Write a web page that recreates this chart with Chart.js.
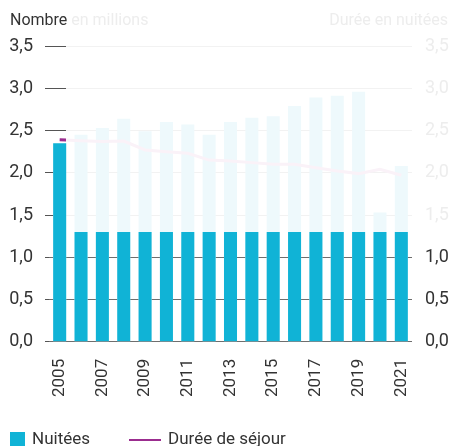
<!DOCTYPE html>
<html>
<head>
<meta charset="utf-8">
<script src="https://cdn.jsdelivr.net/npm/chart.js@4"></script>
<style>
  body { margin: 0; background: #fff; font-family: Roboto, 'Liberation Sans', sans-serif; }
  #wrap { position: relative; width: 452px; height: 446px; overflow: hidden; }
  #myChart { position: absolute; left: 0; top: 0; }
  .titre { position: absolute; top: 10px; font-size: 16px; color: #333; white-space: nowrap; }
  .pale { color: #ededed; }
  .legende { position: absolute; top: 428px; font-size: 17px; color: #333; white-space: nowrap; }
  .carre { position: absolute; width: 15px; height: 15px; background: #10b3d6; top: 4px; left: 0; }
  .trait { position: absolute; width: 32px; height: 2px; background: #9b2d8f; top: 11px; left: 0; }
</style>
</head>
<body>
<div id="wrap">
  <canvas id="myChart" width="452" height="446"></canvas>
  <div class="titre" style="left:10px">Nombre <span class="pale">en millions</span></div>
  <div class="titre pale" style="right:4px">Durée en nuitées</div>
  <div class="legende" style="left:10px"><span class="carre"></span><span style="margin-left:22px" id="leg0"></span></div>
  <div class="legende" style="left:129px"><span class="trait"></span><span style="margin-left:39px" id="leg1"></span></div>
</div>
<script>
var annees = ['2005', '2006', '2007', '2008', '2009', '2010', '2011', '2012', '2013',
  '2014', '2015', '2016', '2017', '2018', '2019', '2020', '2021'];
// nuitées, en millions (barres pâles complètes)
var nuitees = [2.35, 2.45, 2.53, 2.64, 2.49, 2.60, 2.57, 2.45, 2.60, 2.65, 2.67, 2.79, 2.89, 2.91, 2.96, 1.53, 2.08];
// partie des barres dessinée en couleur pleine
var nuiteesPleines = [2.35, 1.3, 1.3, 1.3, 1.3, 1.3, 1.3, 1.3, 1.3, 1.3, 1.3, 1.3, 1.3, 1.3, 1.3, 1.3, 1.3];
// durée de séjour, en nuitées
var dureeSejour = [2.39, 2.38, 2.37, 2.375, 2.27, 2.25, 2.23, 2.15, 2.14, 2.12, 2.10, 2.10, 2.06, 2.02, 1.99, 2.04, 1.97];
var ticksY = [0, 0.5, 1, 1.5, 2, 2.5, 3, 3.5];
var labelsLegende = ['Nuitées', 'Durée de séjour'];

var cyan = '#10b3d6';
var cyanPale = '#eef9fc';
var violet = '#9b2d8f';
var violetPale = '#faf2f8';
var texte = '#333333';
var texteClair = '#ededed';

document.getElementById('leg0').textContent = labelsLegende[0];
document.getElementById('leg1').textContent = labelsLegende[1];

function formatTick(v) {
  return v.toFixed(1).replace('.', ',');
}

function couleurGrille(ctx) {
  if (ctx.tick.value <= 1) return '#6e6e6e';
  var chart = ctx.chart;
  var area = chart.chartArea;
  if (!area || !chart.scales.x) return '#f2f2f2';
  var bord = chart.scales.x.getPixelForValue(0) + 6.5;
  var t = (bord - area.left) / (area.right - area.left);
  var g = chart.ctx.createLinearGradient(area.left, 0, area.right, 0);
  g.addColorStop(0, '#555');
  g.addColorStop(t, '#555');
  g.addColorStop(t, '#f2f2f2');
  g.addColorStop(1, '#f2f2f2');
  return g;
}

new Chart('myChart', {
  data: {
    labels: annees,
    datasets: [
      {
        type: 'line',
        label: labelsLegende[1],
        data: dureeSejour,
        yAxisID: 'y2',
        borderColor: violet,
        borderWidth: 3,
        pointRadius: 0,
        tension: 0,
        clip: { left: 20, top: 0, right: -346, bottom: 0 },
        order: 0,
      },
      {
        type: 'line',
        data: dureeSejour,
        yAxisID: 'y2',
        borderColor: violetPale,
        borderWidth: 3,
        pointRadius: 0,
        tension: 0,
        order: 1,
      },
      {
        type: 'bar',
        label: labelsLegende[0],
        data: nuiteesPleines,
        backgroundColor: cyan,
        grouped: false,
        barPercentage: 0.61,
        categoryPercentage: 1,
        order: 3,
      },
      {
        type: 'bar',
        data: nuitees,
        backgroundColor: cyanPale,
        grouped: false,
        barPercentage: 0.61,
        categoryPercentage: 1,
        order: 4,
      },
    ],
  },
  options: {
    responsive: false,
    animation: false,
    layout: { padding: { top: 46, bottom: 40, left: 0, right: 0 } },
    plugins: {
      legend: { display: false },
      tooltip: { enabled: false },
    },
    scales: {
      x: {
        grid: { display: false },
        border: { display: false },
        ticks: {
          autoSkip: false,
          maxRotation: 90,
          minRotation: 90,
          padding: 9,
          color: texte,
          font: { family: 'Roboto', size: 17 },
          callback: function (value, index) {
            return index % 2 === 0 ? annees[index] : '';
          },
        },
      },
      y: {
        position: 'left',
        min: 0,
        max: 3.5,
        z: 1,
        afterBuildTicks: function (scale) {
          scale.ticks = ticksY.map(function (v) { return { value: v }; });
        },
        afterFit: function (scale) { scale.width = 49; },
        border: { display: false },
        grid: {
          color: couleurGrille,
          tickColor: '#555',
          tickLength: 4,
          lineWidth: 1,
        },
        ticks: {
          padding: 12,
          color: texte,
          font: { family: 'Roboto', size: 18 },
          callback: formatTick,
        },
      },
      y2: {
        position: 'right',
        min: 0,
        max: 3.5,
        afterBuildTicks: function (scale) {
          scale.ticks = ticksY.map(function (v) { return { value: v }; });
        },
        afterFit: function (scale) { scale.width = 40; },
        border: { display: false },
        grid: { drawOnChartArea: false, drawTicks: false },
        ticks: {
          padding: 13,
          color: function (ctx) { return ctx.tick.value <= 1 ? texte : texteClair; },
          font: { family: 'Roboto', size: 18 },
          callback: formatTick,
        },
      },
    },
  },
});
</script>
</body>
</html>
